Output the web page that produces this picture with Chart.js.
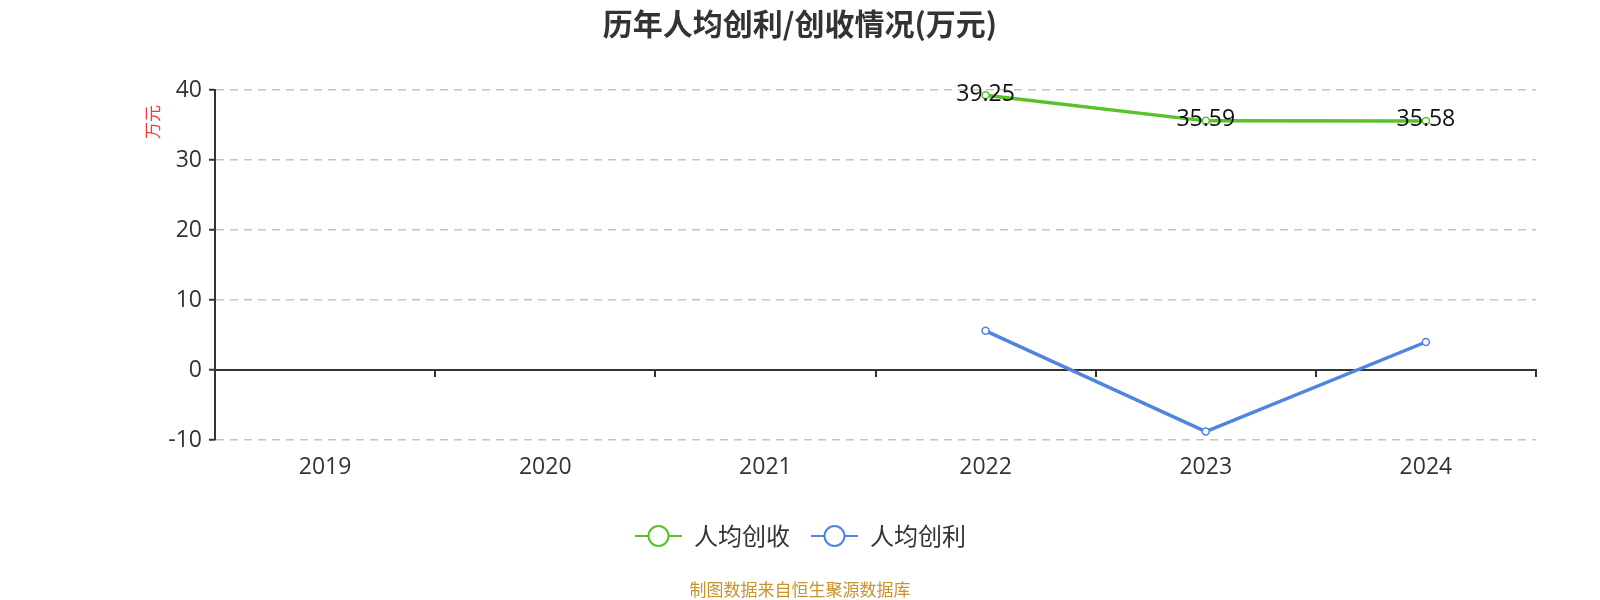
<!DOCTYPE html>
<html>
<head>
<meta charset="utf-8">
<script src="https://cdn.jsdelivr.net/npm/chart.js@4"></script>
<style>
  html, body { margin: 0; padding: 0; background: #fff; }
  #wrap { width: 1600px; height: 600px; position: relative; }
</style>
</head>
<body>
<div id="wrap"><canvas id="chart" width="1600" height="600"></canvas></div>
<script>
// data
const years = ["2019", "2020", "2021", "2022", "2023", "2024"];
const revenuePerHead = [null, null, null, 39.25, 35.59, 35.58]; // 人均创收
const profitPerHead = [null, null, null, 5.6, -8.8, 4.0];      // 人均创利
const yTicks = [-10, 0, 10, 20, 30, 40];

const FONT = "'Open Sans', 'Noto Sans CJK SC', sans-serif";
const CJK = "'Noto Sans CJK SC', sans-serif";
const GREEN = "#58c22a";
const BLUE = "#4f84e3";

// title, unit, legend, source, data labels
const decorPlugin = {
  id: "decor",
  afterDraw(chart) {
    const c = chart.ctx;
    c.save();
    c.fillStyle = "#333";
    c.font = "bold 30px " + CJK;
    c.textAlign = "center";
    c.textBaseline = "middle";
    c.fillText("历年人均创利/创收情况(万元)", 800, 24);

    // y unit
    c.save();
    c.translate(153, 122);
    c.rotate(-Math.PI / 2);
    c.fillStyle = "#f33";
    c.font = "17px " + CJK;
    c.fillText("万元", 0, 0);
    c.restore();

    // legend
    const items = [
      { x: 635, color: GREEN, label: "人均创收" },
      { x: 811, color: BLUE, label: "人均创利" },
    ];
    items.forEach((it) => {
      const y = 536;
      c.strokeStyle = it.color;
      c.lineWidth = 2;
      c.beginPath();
      c.moveTo(it.x, y);
      c.lineTo(it.x + 47, y);
      c.stroke();
      c.fillStyle = "#fff";
      c.beginPath();
      c.arc(it.x + 23.5, y, 10, 0, Math.PI * 2);
      c.fill();
      c.stroke();
      c.fillStyle = "#333";
      c.font = "24px " + CJK;
      c.textAlign = "left";
      c.fillText(it.label, it.x + 59, y);
    });

    // source
    c.fillStyle = "#c9932c";
    c.font = "17px " + CJK;
    c.textAlign = "center";
    c.fillText("制图数据来自恒生聚源数据库", 800, 590);

    // labels on revenue series
    const meta = chart.getDatasetMeta(0);
    c.fillStyle = "#111";
    c.font = "23px " + FONT;
    meta.data.forEach((pt, i) => {
      const v = revenuePerHead[i];
      if (v == null) return;
      c.fillText(v.toFixed(2), pt.x, pt.y - 1);
    });
    c.restore();
  },
};

new Chart(document.getElementById("chart"), {
  type: "line",
  data: {
    labels: years,
    datasets: [
      {
        label: "人均创收",
        data: revenuePerHead,
        borderColor: GREEN,
        backgroundColor: "#fff",
        borderWidth: 3.5,
        pointRadius: 3.5,
        pointBorderWidth: 1.5,
        pointBackgroundColor: "#fff",
        pointBorderColor: GREEN,
        tension: 0,
      },
      {
        label: "人均创利",
        data: profitPerHead,
        borderColor: BLUE,
        backgroundColor: "#fff",
        borderWidth: 3.5,
        pointRadius: 3.5,
        pointBorderWidth: 1.5,
        pointBackgroundColor: "#fff",
        pointBorderColor: BLUE,
        tension: 0,
      },
    ],
  },
  options: {
    responsive: false,
    animation: false,
    layout: { padding: { top: 90, right: 64, left: 0, bottom: 0 } },
    plugins: {
      legend: { display: false },
      title: { display: false },
      tooltip: { enabled: false },
    },
    scales: {
      x: {
        type: "category",
        position: { y: 0 },
        offset: true,
        grid: {
          display: true,
          offset: true,
          drawOnChartArea: false,
          drawTicks: true,
          tickLength: 6,
          tickColor: "#333",
          lineWidth: 2,
        },
        border: { display: true, color: "#333", width: 2 },
        ticks: { display: false },
      },
      x2: {
        type: "category",
        position: "bottom",
        offset: true,
        grid: { display: false },
        border: { display: false },
        ticks: { color: "#333", font: { size: 23, family: FONT }, padding: 6 },
        afterFit: (s) => { s.height = 160; },
      },
      y: {
        min: -10,
        max: 40,
        afterBuildTicks: (s) => { s.ticks = yTicks.map((v) => ({ value: v })); },
        afterFit: (s) => { s.width = 215; },
        grid: {
          color: "#c4c4c4",
          lineWidth: 1.5,
          tickLength: 6,
          tickColor: "#333",
          tickWidth: 2,
        },
        border: { display: true, color: "#333", width: 2, dash: [8, 6] },
        ticks: { color: "#333", font: { size: 23, family: FONT }, padding: 7 },
      },
    },
  },
  plugins: [decorPlugin],
});
</script>
</body>
</html>
